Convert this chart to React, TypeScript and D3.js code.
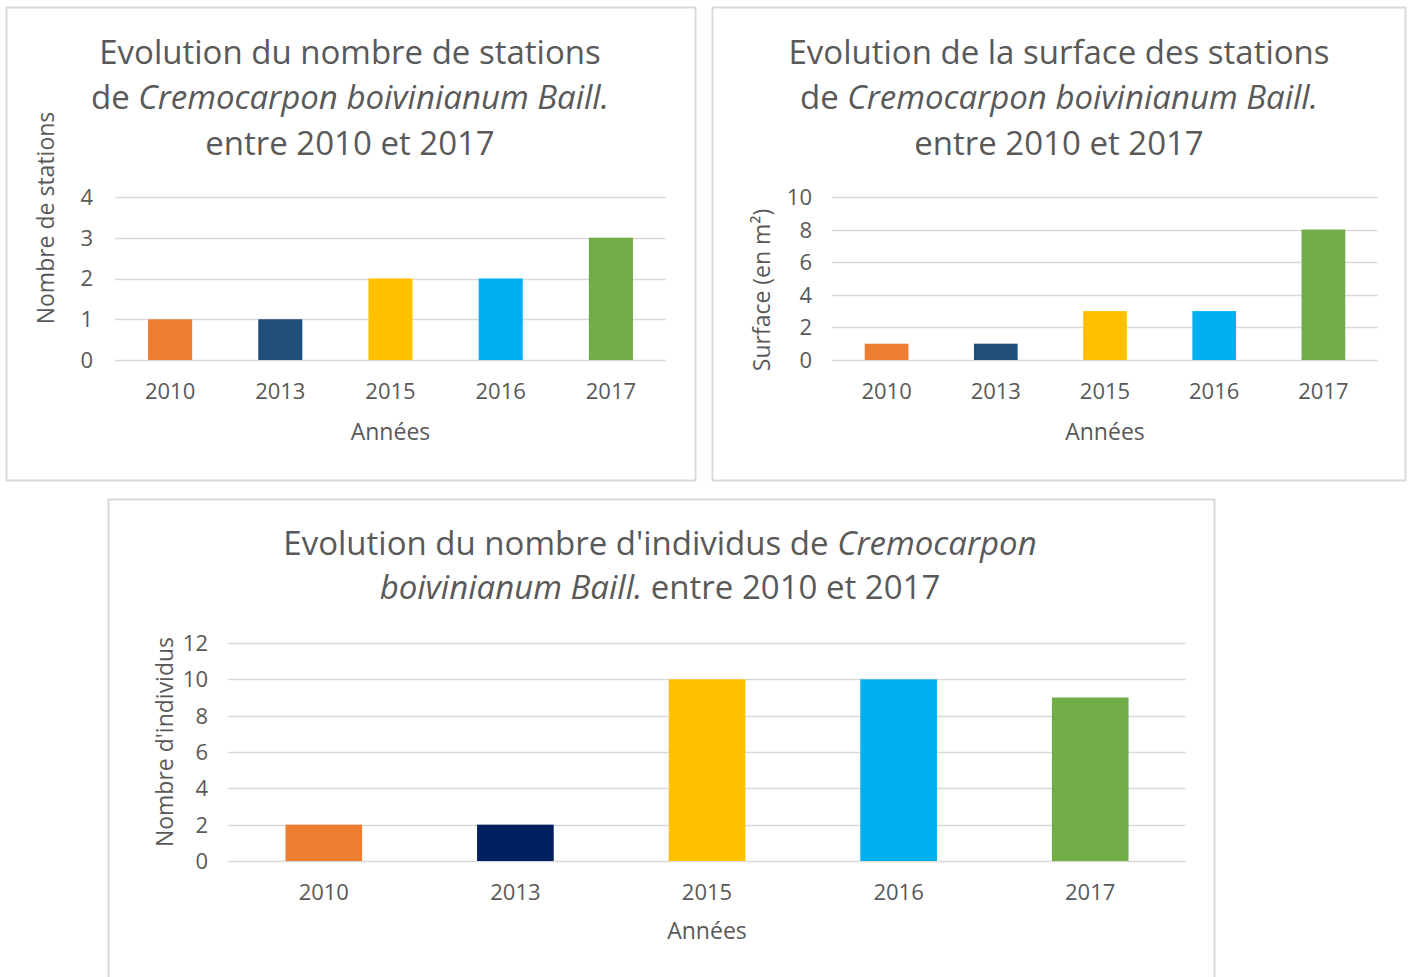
import * as d3 from "d3";
import React, { useEffect, useRef } from "react";

// données
const years = ["2010", "2013", "2015", "2016", "2017"];
const stationCounts = [1, 1, 2, 2, 3];
const surfaces = [1, 1, 3, 3, 8];
const individuals = [2, 2, 10, 10, 9];
const colorsTop = ["#ED7D31", "#1F4E79", "#FFC000", "#00B0F0", "#70AD47"];
const colorsBottom = ["#ED7D31", "#002060", "#FFC000", "#00B0F0", "#70AD47"];
const stationTicks = [0, 1, 2, 3, 4];
const surfaceTicks = [0, 2, 4, 6, 8, 10];
const individualTicks = [0, 2, 4, 6, 8, 10, 12];

type Part = [string, boolean];

interface Panel {
  box: { x: number; y: number; w: number; h: number };
  plot: { left: number; right: number; top: number; bottom: number };
  titleX: number;
  titleY: number[];
  title: Part[][];
  yTitle: string;
  yTitleX: number;
  yTitleY: number;
  tickX: number;
  labelY: number;
  xTitleY: number;
  values: number[];
  ticks: number[];
  colors: string[];
}

const FONT = "'Open Sans', sans-serif";
const TEXT = "#595959";
const GRID = "#D9D9D9";

const panels: Panel[] = [
  {
    box: { x: 6, y: 7, w: 689, h: 473 },
    plot: { left: 115, right: 666, top: 197, bottom: 360 },
    titleX: 350,
    titleY: [52, 97, 143],
    title: [
      [["Evolution du nombre de stations", false]],
      [["de ", false], ["Cremocarpon boivinianum Baill.", true]],
      [["entre 2010 et 2017", false]],
    ],
    yTitle: "Nombre de stations",
    yTitleX: 46,
    yTitleY: 218,
    tickX: 93,
    labelY: 391,
    xTitleY: 432,
    values: stationCounts,
    ticks: stationTicks,
    colors: colorsTop,
  },
  {
    box: { x: 712, y: 7, w: 693, h: 473 },
    plot: { left: 832, right: 1378, top: 197, bottom: 360 },
    titleX: 1059,
    titleY: [52, 97, 143],
    title: [
      [["Evolution de la surface des stations", false]],
      [["de ", false], ["Cremocarpon boivinianum Baill.", true]],
      [["entre 2010 et 2017", false]],
    ],
    yTitle: "Surface (en m²)",
    yTitleX: 762,
    yTitleY: 290,
    tickX: 812,
    labelY: 391,
    xTitleY: 432,
    values: surfaces,
    ticks: surfaceTicks,
    colors: colorsTop,
  },
  {
    box: { x: 108, y: 499, w: 1106, h: 490 },
    plot: { left: 228, right: 1186, top: 643, bottom: 861 },
    titleX: 660,
    titleY: [543, 587],
    title: [
      [["Evolution du nombre d'individus de ", false], ["Cremocarpon", true]],
      [["boivinianum Baill.", true], [" entre 2010 et 2017", false]],
    ],
    yTitle: "Nombre d'individus",
    yTitleX: 165,
    yTitleY: 742,
    tickX: 208,
    labelY: 892,
    xTitleY: 931,
    values: individuals,
    ticks: individualTicks,
    colors: colorsBottom,
  },
];

const drawPanel = (root: d3.Selection<SVGGElement, unknown, null, undefined>, p: Panel) => {
  const g = root.append("g");

  // cadre
  g.append("rect")
    .attr("x", p.box.x + 0.5)
    .attr("y", p.box.y + 0.5)
    .attr("width", p.box.w)
    .attr("height", p.box.h)
    .attr("fill", "#fff")
    .attr("stroke", GRID)
    .attr("stroke-width", 2);

  const x = d3.scaleBand<string>()
    .domain(years)
    .range([p.plot.left, p.plot.right])
    .paddingInner(0.6)
    .paddingOuter(0.3);

  const y = d3.scaleLinear()
    .domain([0, d3.max(p.ticks) as number])
    .range([p.plot.bottom, p.plot.top]);

  // grille
  g.selectAll(".grid")
    .data(p.ticks)
    .enter()
    .append("line")
    .attr("x1", p.plot.left)
    .attr("x2", p.plot.right)
    .attr("y1", (d) => Math.round(y(d)) + 0.5)
    .attr("y2", (d) => Math.round(y(d)) + 0.5)
    .attr("stroke", GRID)
    .attr("stroke-width", 1.3);

  g.selectAll(".tick")
    .data(p.ticks)
    .enter()
    .append("text")
    .attr("x", p.tickX)
    .attr("y", (d) => y(d))
    .attr("dy", "0.36em")
    .attr("text-anchor", "end")
    .style("font-family", FONT)
    .style("font-size", "22px")
    .style("fill", TEXT)
    .text((d) => d);

  // barres
  g.selectAll(".bar")
    .data(p.values)
    .enter()
    .append("rect")
    .attr("x", (_, i) => x(years[i]) as number)
    .attr("y", (d) => y(d))
    .attr("width", x.bandwidth())
    .attr("height", (d) => y(0) - y(d))
    .attr("fill", (_, i) => p.colors[i]);

  g.selectAll(".label")
    .data(years)
    .enter()
    .append("text")
    .attr("x", (d) => (x(d) as number) + x.bandwidth() / 2)
    .attr("y", p.labelY)
    .attr("dy", "0.36em")
    .attr("text-anchor", "middle")
    .style("font-family", FONT)
    .style("font-size", "22px")
    .style("fill", TEXT)
    .text((d) => d);

  g.append("text")
    .attr("x", (p.plot.left + p.plot.right) / 2)
    .attr("y", p.xTitleY)
    .attr("dy", "0.36em")
    .attr("text-anchor", "middle")
    .style("font-family", FONT)
    .style("font-size", "23px")
    .style("fill", TEXT)
    .text("Années");

  g.append("text")
    .attr("transform", `translate(${p.yTitleX},${p.yTitleY}) rotate(-90)`)
    .attr("dy", "0.36em")
    .attr("text-anchor", "middle")
    .style("font-family", FONT)
    .style("font-size", "23px")
    .style("fill", TEXT)
    .text(p.yTitle);

  // titre
  p.title.forEach((line, i) => {
    const t = g.append("text")
      .attr("x", p.titleX)
      .attr("y", p.titleY[i])
      .attr("dy", "0.36em")
      .attr("text-anchor", "middle")
      .style("font-family", FONT)
      .style("font-size", "33px")
      .style("fill", TEXT);
    line.forEach(([s, it]) => {
      t.append("tspan").style("font-style", it ? "italic" : "normal").text(s);
    });
  });
};

const App: React.FC = () => {
  const svgRef = useRef<SVGSVGElement>(null);
  const isRender = useRef(false);

  useEffect(() => {
    if (isRender.current || !svgRef.current) return;
    const root = d3.select(svgRef.current).append("g");
    panels.forEach((p) => drawPanel(root, p));
    isRender.current = true;
  }, []);

  return (
    <div style={{ position: "absolute", left: 0, top: 0 }}>
      <svg ref={svgRef} width={1413} height={977} style={{ display: "block", background: "#fff" }} />
    </div>
  );
};

export default App;
